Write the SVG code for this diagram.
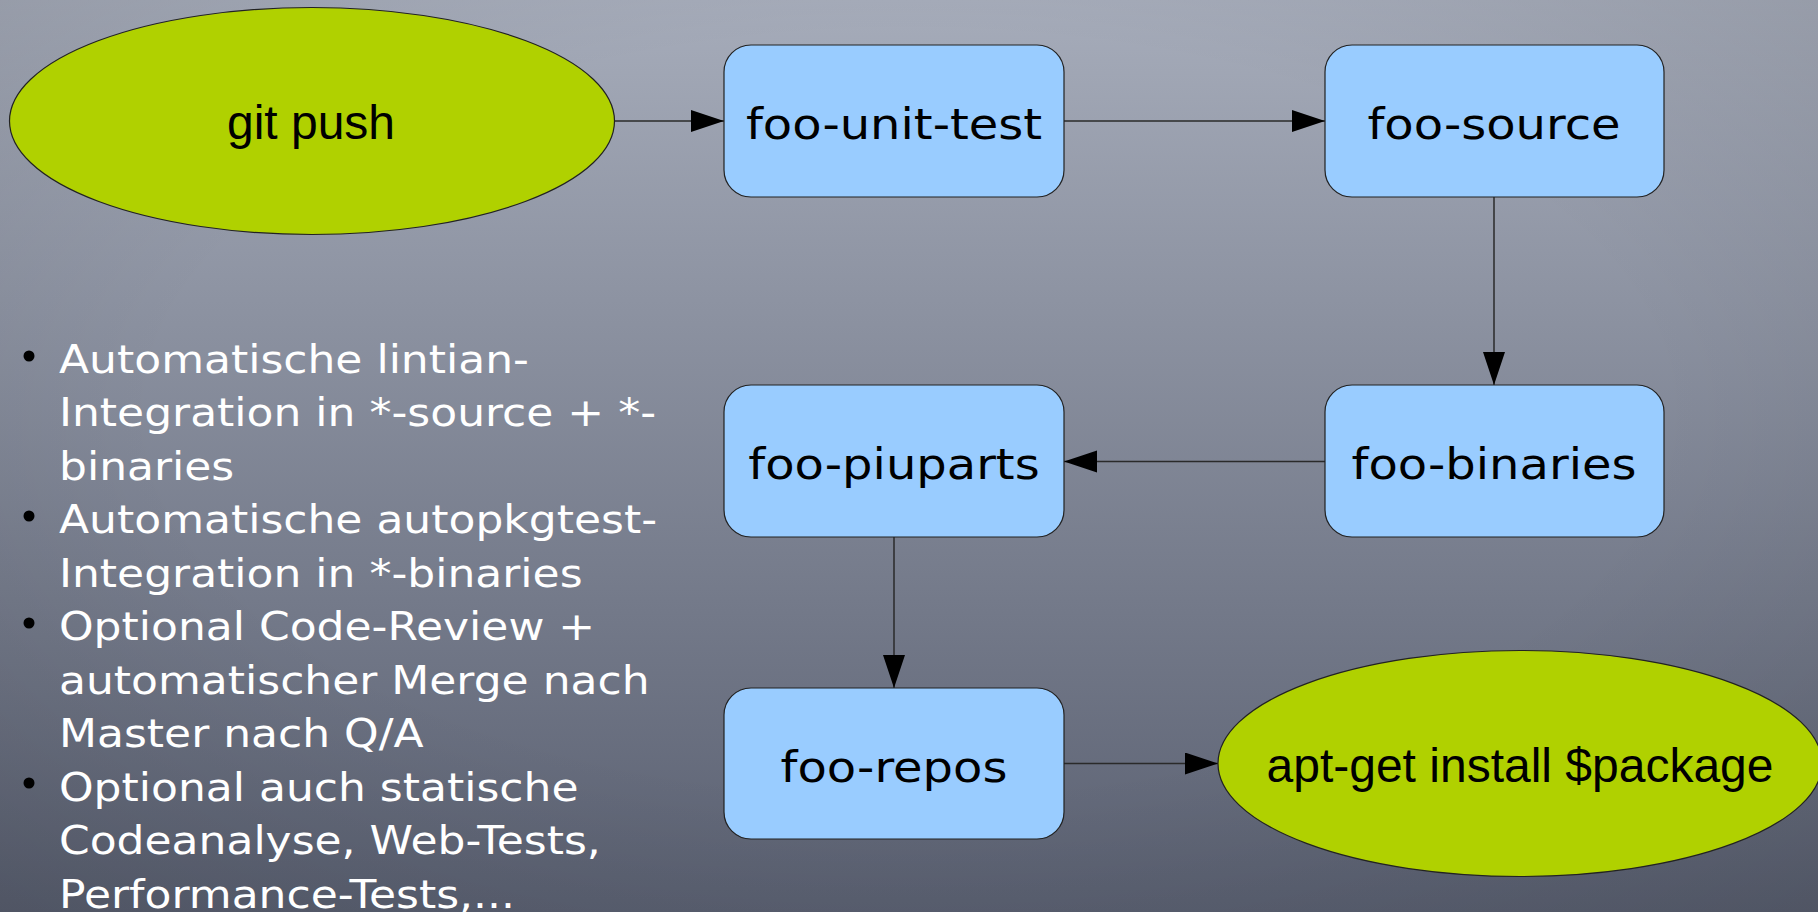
<svg xmlns="http://www.w3.org/2000/svg" width="1818" height="912" viewBox="0 0 1818 912">
<defs>
<linearGradient id="bg" x1="0" y1="0" x2="0" y2="1">
<stop offset="0" stop-color="#a6acba"/>
<stop offset="1" stop-color="#5a6071"/>
</linearGradient>
<radialGradient id="vig" cx="0.5" cy="0.45" r="0.75">
<stop offset="0.55" stop-color="#000" stop-opacity="0"/>
<stop offset="1" stop-color="#000" stop-opacity="0.12"/>
</radialGradient>
<marker id="arr" markerUnits="userSpaceOnUse" markerWidth="34" markerHeight="24" refX="33" refY="11" orient="auto">
<path d="M0,0 L33,11 L0,22 z" fill="#000"/>
</marker>
<style>
.box{fill:#99ccff;stroke:#222;stroke-width:1.2}
.ell{fill:#b0d100;stroke:#222;stroke-width:1.2}
.bt{font-family:"DejaVu Sans",sans-serif;font-size:48px;fill:#000;text-anchor:middle}
.et{font-family:"Liberation Sans",Arial,sans-serif;font-size:48px;fill:#000;text-anchor:middle}
.con{stroke:#2a2a2a;stroke-width:1.5;fill:none;marker-end:url(#arr)}
.li{font-family:"DejaVu Sans",sans-serif;font-size:44px;fill:#fff}
.dot{fill:#000}
</style>
</defs>
<rect width="1818" height="912" fill="url(#bg)"/>
<rect width="1818" height="912" fill="url(#vig)"/>

<g id="connectors">
<line class="con" x1="614" y1="121" x2="724" y2="121"/>
<line class="con" x1="1064" y1="121" x2="1325" y2="121"/>
<line class="con" x1="1494" y1="197" x2="1494" y2="385"/>
<line class="con" x1="1325" y1="461.5" x2="1064" y2="461.5"/>
<line class="con" x1="894" y1="537" x2="894" y2="688"/>
<line class="con" x1="1064" y1="763.5" x2="1218" y2="763.5"/>
</g>

<g id="git-push">
<ellipse class="ell" cx="312" cy="121" rx="302.5" ry="113.5"/>
<text class="et" x="311" y="139">git push</text>
</g>
<g id="foo-unit-test">
<rect class="box" x="724" y="45" width="340" height="152" rx="27" ry="27"/>
<g transform="translate(894,139) scale(1,0.875)"><text class="bt" x="0" y="0">foo-unit-test</text></g>
</g>
<g id="foo-source">
<rect class="box" x="1325" y="45" width="339" height="152" rx="27" ry="27"/>
<g transform="translate(1494,139) scale(1,0.875)"><text class="bt" x="0" y="0">foo-source</text></g>
</g>
<g id="foo-binaries">
<rect class="box" x="1325" y="385" width="339" height="152" rx="27" ry="27"/>
<g transform="translate(1494,479) scale(1,0.875)"><text class="bt" x="0" y="0">foo-binaries</text></g>
</g>
<g id="foo-piuparts">
<rect class="box" x="724" y="385" width="340" height="152" rx="27" ry="27"/>
<g transform="translate(894,479) scale(1,0.875)"><text class="bt" x="0" y="0">foo-piuparts</text></g>
</g>
<g id="foo-repos">
<rect class="box" x="724" y="688" width="340" height="151" rx="27" ry="27"/>
<g transform="translate(894,782) scale(1,0.875)"><text class="bt" x="0" y="0">foo-repos</text></g>
</g>
<g id="apt-get">
<ellipse class="ell" cx="1520" cy="763.5" rx="302" ry="113"/>
<text class="et" x="1520" y="782">apt-get install $package</text>
</g>

<g id="bullets">
<circle class="dot" cx="29" cy="356" r="5.5"/>
<circle class="dot" cx="29" cy="516" r="5.5"/>
<circle class="dot" cx="29" cy="623" r="5.5"/>
<circle class="dot" cx="29" cy="783" r="5.5"/>
<g transform="translate(59,373) scale(1,0.875)">
<text class="li" x="0" y="0">Automatische lintian-</text>
<text class="li" x="0" y="61.1">Integration in *-source + *-</text>
<text class="li" x="0" y="122.2">binaries</text>
<text class="li" x="0" y="183.3">Automatische autopkgtest-</text>
<text class="li" x="0" y="244.4">Integration in *-binaries</text>
<text class="li" x="0" y="305.5">Optional Code-Review +</text>
<text class="li" x="0" y="366.6">automatischer Merge nach</text>
<text class="li" x="0" y="427.7">Master nach Q/A</text>
<text class="li" x="0" y="488.8">Optional auch statische</text>
<text class="li" x="0" y="549.9">Codeanalyse, Web-Tests,</text>
<text class="li" x="0" y="611">Performance-Tests,...</text>
</g>
</g>
</svg>
